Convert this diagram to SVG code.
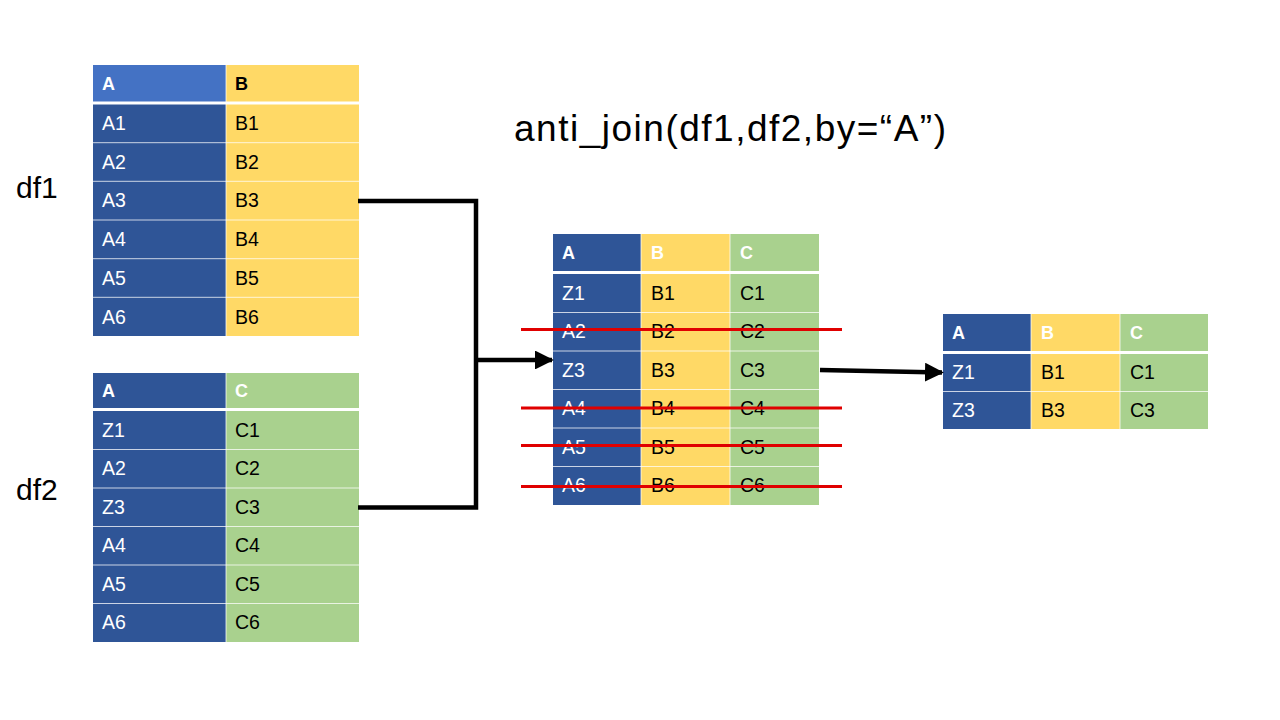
<svg xmlns="http://www.w3.org/2000/svg" width="1280" height="720" viewBox="0 0 1280 720">
<defs>
<style>
.a{fill:#2F5597}.ah{fill:#4472C4}.b{fill:#FFD966}.c{fill:#A9D18E}
.sep{stroke:#FFFFFF;stroke-width:1;opacity:0.75}
.hsep{stroke:#FFFFFF;stroke-width:3}
text{font-family:"Liberation Sans",Arial,sans-serif;font-size:19.5px}
.w{fill:#FFFFFF}.k{fill:#000000}.bold{font-weight:bold;font-size:18px}
.conn{fill:none;stroke:#000000;stroke-width:4.5}
.strike{stroke:#E00000;stroke-width:3}
</style>
<marker id="arr" viewBox="0 0 10 10" refX="9" refY="5" markerWidth="4.2" markerHeight="4.2" orient="auto" markerUnits="strokeWidth">
<path d="M0,0 L10,5 L0,10 z" fill="#000000"/>
</marker>
</defs>
<rect width="1280" height="720" fill="#FFFFFF"/>

<text x="514" y="141" style="font-size:37px" textLength="432" class="k">anti_join(df1,df2,by=“A”)</text>
<text x="16" y="198" style="font-size:30px" class="k">df1</text>
<text x="16" y="500" style="font-size:30px" class="k">df2</text>

<g id="df1">
<rect x="93" y="65" width="133" height="37" class="ah"/>
<rect x="226" y="65" width="133" height="37" class="b"/>
<rect x="93" y="104" width="133" height="232" class="a"/>
<rect x="226" y="104" width="133" height="232" class="b"/>
<line x1="93" y1="103" x2="359" y2="103" class="hsep"/>
<line x1="226" y1="65" x2="226" y2="336" class="sep"/>
<line x1="93" y1="142.7" x2="359" y2="142.7" class="sep"/>
<line x1="93" y1="181.3" x2="359" y2="181.3" class="sep"/>
<line x1="93" y1="220" x2="359" y2="220" class="sep"/>
<line x1="93" y1="258.7" x2="359" y2="258.7" class="sep"/>
<line x1="93" y1="297.3" x2="359" y2="297.3" class="sep"/>
<text x="102" y="90" class="w bold">A</text>
<text x="235" y="90" class="k bold">B</text>
<text x="102" y="130" class="w">A1</text><text x="235" y="130" class="k">B1</text>
<text x="102" y="169" class="w">A2</text><text x="235" y="169" class="k">B2</text>
<text x="102" y="207" class="w">A3</text><text x="235" y="207" class="k">B3</text>
<text x="102" y="246" class="w">A4</text><text x="235" y="246" class="k">B4</text>
<text x="102" y="285" class="w">A5</text><text x="235" y="285" class="k">B5</text>
<text x="102" y="324" class="w">A6</text><text x="235" y="324" class="k">B6</text>
</g>

<g id="df2">
<rect x="93" y="373" width="133" height="36" class="a"/>
<rect x="226" y="373" width="133" height="36" class="c"/>
<rect x="93" y="411" width="133" height="231" class="a"/>
<rect x="226" y="411" width="133" height="231" class="c"/>
<line x1="93" y1="409.5" x2="359" y2="409.5" class="hsep"/>
<line x1="226" y1="373" x2="226" y2="642" class="sep"/>
<line x1="93" y1="449.5" x2="359" y2="449.5" class="sep"/>
<line x1="93" y1="488" x2="359" y2="488" class="sep"/>
<line x1="93" y1="526.5" x2="359" y2="526.5" class="sep"/>
<line x1="93" y1="565" x2="359" y2="565" class="sep"/>
<line x1="93" y1="603.5" x2="359" y2="603.5" class="sep"/>
<text x="102" y="397" class="w bold">A</text>
<text x="235" y="397" class="w bold">C</text>
<text x="102" y="437" class="w">Z1</text><text x="235" y="437" class="k">C1</text>
<text x="102" y="475" class="w">A2</text><text x="235" y="475" class="k">C2</text>
<text x="102" y="514" class="w">Z3</text><text x="235" y="514" class="k">C3</text>
<text x="102" y="552" class="w">A4</text><text x="235" y="552" class="k">C4</text>
<text x="102" y="591" class="w">A5</text><text x="235" y="591" class="k">C5</text>
<text x="102" y="629" class="w">A6</text><text x="235" y="629" class="k">C6</text>
</g>

<g id="joined">
<rect x="553" y="234" width="88" height="37" class="a"/>
<rect x="641" y="234" width="89" height="37" class="b"/>
<rect x="730" y="234" width="89" height="37" class="c"/>
<rect x="553" y="274" width="88" height="231" class="a"/>
<rect x="641" y="274" width="89" height="231" class="b"/>
<rect x="730" y="274" width="89" height="231" class="c"/>
<line x1="553" y1="272.5" x2="819" y2="272.5" class="hsep"/>
<line x1="641" y1="234" x2="641" y2="505" class="sep"/>
<line x1="730" y1="234" x2="730" y2="505" class="sep"/>
<line x1="553" y1="312.5" x2="819" y2="312.5" class="sep"/>
<line x1="553" y1="351" x2="819" y2="351" class="sep"/>
<line x1="553" y1="389.5" x2="819" y2="389.5" class="sep"/>
<line x1="553" y1="428" x2="819" y2="428" class="sep"/>
<line x1="553" y1="466.5" x2="819" y2="466.5" class="sep"/>
<text x="562" y="259" class="w bold">A</text>
<text x="651" y="259" class="w bold">B</text>
<text x="740" y="259" class="w bold">C</text>
<text x="562" y="300" class="w">Z1</text><text x="651" y="300" class="k">B1</text><text x="740" y="300" class="k">C1</text>
<text x="562" y="338" class="w">A2</text><text x="651" y="338" class="k">B2</text><text x="740" y="338" class="k">C2</text>
<text x="562" y="377" class="w">Z3</text><text x="651" y="377" class="k">B3</text><text x="740" y="377" class="k">C3</text>
<text x="562" y="415" class="w">A4</text><text x="651" y="415" class="k">B4</text><text x="740" y="415" class="k">C4</text>
<text x="562" y="454" class="w">A5</text><text x="651" y="454" class="k">B5</text><text x="740" y="454" class="k">C5</text>
<text x="562" y="492" class="w">A6</text><text x="651" y="492" class="k">B6</text><text x="740" y="492" class="k">C6</text>
</g>

<g id="strikes">
<line x1="521" y1="329.5" x2="842" y2="329.5" class="strike"/>
<line x1="521" y1="408" x2="842" y2="408" class="strike"/>
<line x1="521" y1="445.5" x2="842" y2="445.5" class="strike"/>
<line x1="521" y1="486.5" x2="842" y2="486.5" class="strike"/>
</g>

<g id="result">
<rect x="943" y="314" width="88" height="37" class="a"/>
<rect x="1031" y="314" width="89" height="37" class="b"/>
<rect x="1120" y="314" width="88" height="37" class="c"/>
<rect x="943" y="354" width="88" height="75" class="a"/>
<rect x="1031" y="354" width="89" height="75" class="b"/>
<rect x="1120" y="354" width="88" height="75" class="c"/>
<line x1="943" y1="352.5" x2="1208" y2="352.5" class="hsep"/>
<line x1="1031" y1="314" x2="1031" y2="429" class="sep"/>
<line x1="1120" y1="314" x2="1120" y2="429" class="sep"/>
<line x1="943" y1="391.5" x2="1208" y2="391.5" class="sep"/>
<text x="952" y="339" class="w bold">A</text>
<text x="1041" y="339" class="w bold">B</text>
<text x="1130" y="339" class="w bold">C</text>
<text x="952" y="379" class="w">Z1</text><text x="1041" y="379" class="k">B1</text><text x="1130" y="379" class="k">C1</text>
<text x="952" y="417" class="w">Z3</text><text x="1041" y="417" class="k">B3</text><text x="1130" y="417" class="k">C3</text>
</g>

<g id="connectors">
<polyline points="358,201 476,201 476,507.5 358,507.5" class="conn"/>
<line x1="476" y1="360" x2="552" y2="360" class="conn" marker-end="url(#arr)"/>
<line x1="820" y1="370" x2="942" y2="372.5" class="conn" marker-end="url(#arr)"/>
</g>
</svg>
